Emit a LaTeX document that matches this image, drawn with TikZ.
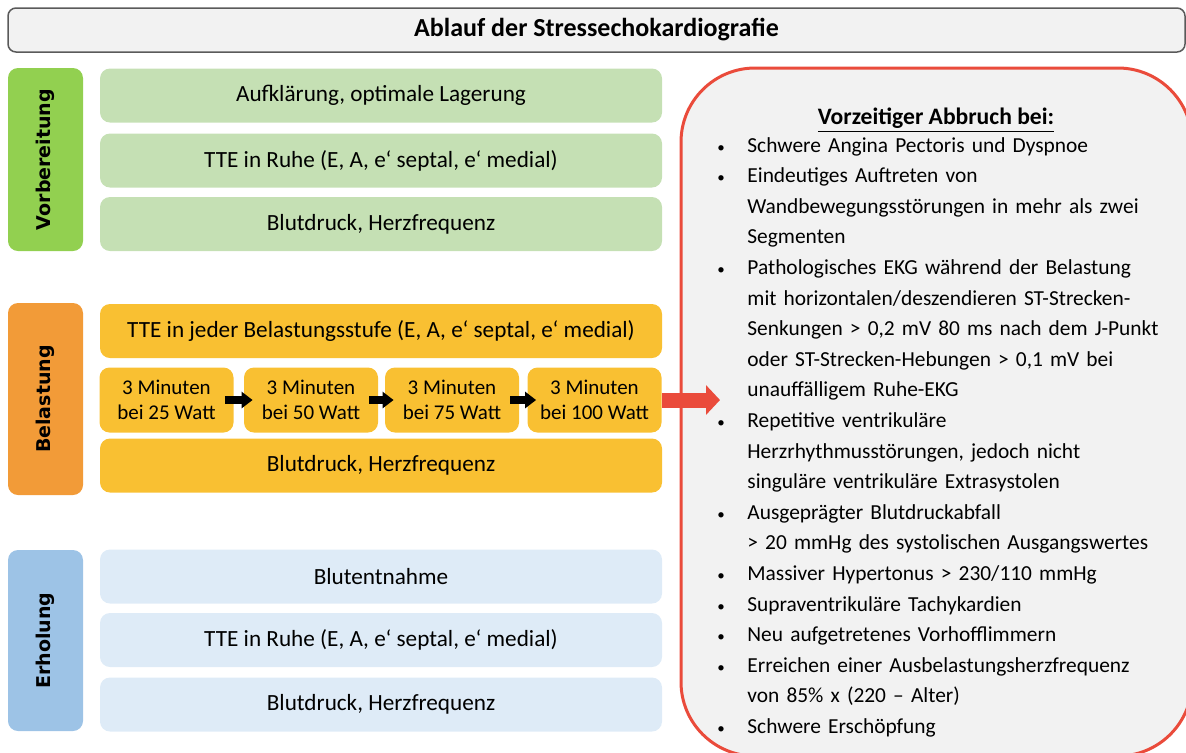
\documentclass[tikz,border=0pt]{standalone}
\usepackage{fontspec}
\setmainfont{Carlito}
\newfontfamily\phasefont{DejaVu Sans}
\usepackage{tikz}
\usetikzlibrary{arrows.meta}
\definecolor{titlebg}{HTML}{F2F2F2}
\definecolor{titleline}{HTML}{5A5A5A}
\definecolor{vorb}{HTML}{92D050}
\definecolor{vorbrow}{HTML}{C5E0B4}
\definecolor{bel}{HTML}{F29B38}
\definecolor{belrow}{HTML}{F9C032}
\definecolor{erh}{HTML}{9DC3E6}
\definecolor{erhrow}{HTML}{DEEBF7}
\definecolor{abbr}{HTML}{EA4B3B}
\definecolor{abbrbg}{HTML}{F2F2F2}
\newcommand\itm{\par\hangindent=16.5pt\hangafter=1\noindent\makebox[16.5pt][l]{\hspace{1.5pt}{\fontsize{7.5}{8}\selectfont\textbullet}}}
\tikzset{
  titlebox/.style={draw=titleline, line width=0.75pt, fill=titlebg, rounded corners=4pt,
    minimum width=588.5pt, minimum height=22pt, inner sep=0pt,
    font=\fontsize{13}{14}\selectfont\bfseries},
  phase/.style={rounded corners=5pt, rotate=90, minimum height=37.5pt, inner sep=0pt,
    font=\phasefont\fontsize{9.5}{11}\selectfont\bfseries},
  rowbox/.style={rounded corners=5pt, minimum width=281pt, minimum height=27pt, inner sep=0pt,
    font=\fontsize{11.6}{13}\selectfont},
  minbox/.style={rounded corners=5pt, fill=belrow, minimum width=67pt, minimum height=32.5pt,
    inner sep=0pt, align=center, font=\fontsize{10.5}{12.5}\selectfont},
  steparr/.style={-{Triangle[length=5.5pt, width=8pt]}, line width=3.75pt, black,
    shorten <=-4.5pt, shorten >=-4.5pt},
  abbrarr/.style={-{Triangle[length=7pt, width=14.5pt]}, line width=7.5pt, abbr},
  abbrbox/.style={draw=abbr, line width=1.5pt, fill=abbrbg, rounded corners=37pt}
}
\begin{document}
\begin{tikzpicture}[x=0.5pt, y=-0.5pt]
  \useasboundingbox (0,0) rectangle (1186,752);
  \clip (0,0) rectangle (1186,752);

  \node[titlebox] (title) at (596.5,30) {Ablauf der Stressechokardiografie};

  \node[phase, fill=vorb, minimum width=91.5pt] (vorb) at (45.5,159.5) {Vorbereitung};
  \node[phase, fill=bel, minimum width=96pt] (bel) at (45.5,399) {Belastung};
  \node[phase, fill=erh, minimum width=90.5pt] (erh) at (45.5,640.5) {Erholung};

  \node[rowbox, fill=vorbrow] (v1) at (381,95.5) {Aufklärung, optimale Lagerung};
  \node[rowbox, fill=vorbrow] (v2) at (381,160.5) {TTE in Ruhe (E, A, e‘ septal, e‘ medial)};
  \node[rowbox, fill=vorbrow] (v3) at (381,224) {Blutdruck, Herzfrequenz};

  \node[rowbox, fill=belrow] (b1) at (381,331) {TTE in jeder Belastungsstufe (E, A, e‘ septal, e‘ medial)};
  \node[minbox] (m1) at (166.5,400) {3 Minuten\\bei 25 Watt};
  \node[minbox] (m2) at (311,400) {3 Minuten\\bei 50 Watt};
  \node[minbox] (m3) at (452,400) {3 Minuten\\bei 75 Watt};
  \node[minbox] (m4) at (594.5,400) {3 Minuten\\bei 100 Watt};
  \node[rowbox, fill=belrow] (b3) at (381,465.5) {Blutdruck, Herzfrequenz};

  \draw[steparr] (m1) -- (m2);
  \draw[steparr] (m2) -- (m3);
  \draw[steparr] (m3) -- (m4);

  \node[rowbox, fill=erhrow] (e1) at (381,576.5) {Blutentnahme};
  \node[rowbox, fill=erhrow] (e2) at (381,640) {TTE in Ruhe (E, A, e‘ septal, e‘ medial)};
  \node[rowbox, fill=erhrow] (e3) at (381,704.5) {Blutdruck, Herzfrequenz};

  \draw[abbrbox] (681,68) rectangle (1192,756);
  \coordinate (abbrtip) at (720,400);
  \draw[abbrarr] (m4.east) -- (abbrtip);

  \node[font=\fontsize{11.8}{13}\selectfont\bfseries] (abbrhead) at (936,120) {\underline{Vorzeitiger Abbruch bei:}};
  \node[anchor=north west, inner sep=0pt, text width=236pt,
    font=\fontsize{10.7}{15.3}\selectfont] (abbrlist) at (714,121) {\raggedright
    \itm Schwere Angina Pectoris und Dyspnoe
    \itm Eindeutiges Auftreten von\newline Wandbewegungsstörungen in mehr als zwei\newline Segmenten
    \itm Pathologisches EKG während der Belastung\newline mit horizontalen/deszendieren ST-Strecken-\newline Senkungen > 0,2 mV 80 ms nach dem J-Punkt\newline oder ST-Strecken-Hebungen > 0,1 mV bei\newline unauffälligem Ruhe-EKG
    \itm Repetitive ventrikuläre\newline Herzrhythmusstörungen, jedoch nicht\newline singuläre ventrikuläre Extrasystolen
    \itm Ausgeprägter Blutdruckabfall\newline > 20 mmHg des systolischen Ausgangswertes
    \itm Massiver Hypertonus > 230/110 mmHg
    \itm Supraventrikuläre Tachykardien
    \itm Neu aufgetretenes Vorhofflimmern
    \itm Erreichen einer Ausbelastungsherzfrequenz\newline von 85\% x (220 – Alter)
    \itm Schwere Erschöpfung\par};
\end{tikzpicture}
\end{document}
